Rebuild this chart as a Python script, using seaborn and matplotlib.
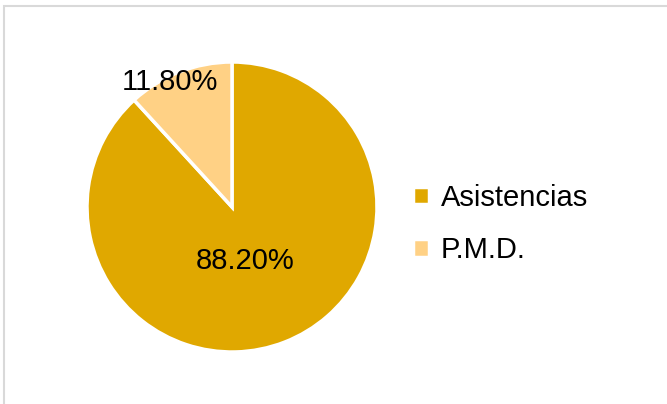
import matplotlib
matplotlib.use("Agg")
import matplotlib.pyplot as plt
import seaborn as sns
from matplotlib.patches import Rectangle

# data
labels = ["Asistencias", "P.M.D."]
values = [88.20, 11.80]
colors = ["#E0A800", "#FFD185"]

sns.set_style("white")
plt.rcParams['font.family'] = ['Liberation Sans', 'DejaVu Sans']

fig = plt.figure(figsize=(6.67, 4.04), dpi=100)

# light grey chart-area border (runs off right/bottom edge)
fig.patches.append(Rectangle((4 / 667, -0.1), 1.0, (404 - 6) / 404 + 0.1,
                             transform=fig.transFigure, fill=False,
                             edgecolor="#D9D9D9", linewidth=1.5))

cx, cy, r = 232, 207, 145
ax = fig.add_axes([(cx - r) / 667, (404 - cy - r) / 404, 2 * r / 667, 2 * r / 404])

wedges, texts, autotexts = ax.pie(
    values, colors=colors, startangle=90, counterclock=False,
    autopct=lambda p: f"{p:.2f}%", radius=1.0,
    wedgeprops=dict(edgecolor="white", linewidth=2.5),
    textprops=dict(fontsize=21, color="black"))
ax.set_xlim(-1, 1)
ax.set_ylim(-1, 1)
ax.set_aspect("equal")

autotexts[0].set_position((0.09, -0.37))
autotexts[1].set_position((-0.43, 0.86))

leg = fig.legend(wedges, labels, loc="center left",
                 bbox_to_anchor=(387 / 667, 1 - 224 / 404),
                 frameon=False, fontsize=21, handlelength=0.55, handleheight=0.55,
                 handletextpad=0.4, labelspacing=0.85, labelcolor="black")

fig.savefig("out.png", dpi=100)
